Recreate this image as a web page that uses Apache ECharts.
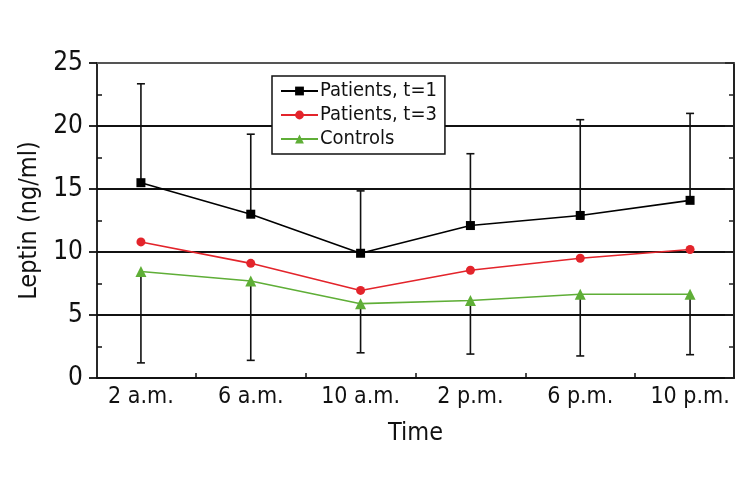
<!DOCTYPE html>
<html>
<head>
<meta charset="utf-8">
<script src="https://cdn.jsdelivr.net/npm/echarts@6/dist/echarts.min.js"></script>
<style>html,body{margin:0;padding:0;background:#fff}#c{width:750px;height:500px}</style>
</head>
<body>
<div id="c"></div>
<script>
const categories = ['2 a.m.', '6 a.m.', '10 a.m.', '2 p.m.', '6 p.m.', '10 p.m.'];
const yTicks = [0, 5, 10, 15, 20, 25];
const patientsT1 = [15.5, 13.0, 9.9, 12.1, 12.9, 14.1];
const patientsT3 = [10.8, 9.1, 6.95, 8.55, 9.5, 10.2];
const controls = [8.45, 7.7, 5.9, 6.15, 6.65, 6.65];
const upperErrEnd = [23.35, 19.35, 14.85, 17.8, 20.5, 21.0];
const lowerErrEnd = [1.2, 1.4, 2.0, 1.9, 1.75, 1.85];

const FONT = "'DejaVu Sans Condensed', 'Liberation Sans Narrow', 'Noto Sans', sans-serif";
const xIdx = categories.map((c, i) => i);

const errData = [];
xIdx.forEach(i => {
  errData.push([i, patientsT1[i], upperErrEnd[i]]);
  errData.push([i, controls[i], lowerErrEnd[i]]);
});

const chart = echarts.init(document.getElementById('c'), null, {renderer: 'canvas'});
chart.setOption({
  animation: false,
  backgroundColor: '#fff',
  textStyle: {fontFamily: FONT},
  grid: {left: 97, right: 16, top: 63, bottom: 122, containLabel: false},
  legend: {
    left: 272, top: 76,
    orient: 'vertical',
    backgroundColor: '#fff',
    borderColor: '#111', borderWidth: 1.5,
    padding: [5, 8, 5, 8],
    itemGap: 4,
    itemWidth: 37, itemHeight: 11,
    textStyle: {fontFamily: FONT, fontSize: 20, color: '#111', padding: [0, 0, 0, -3]},
    data: ['Patients, t=1', 'Patients, t=3', 'Controls']
  },
  xAxis: [{
    type: 'value', min: -0.4, max: 5.4,
    name: 'Time', nameLocation: 'middle', nameGap: 43,
    nameTextStyle: {fontFamily: FONT, fontSize: 25, color: '#111'},
    axisLine: {show: true, onZero: false, lineStyle: {color: '#111', width: 1.8}},
    axisTick: {show: true, inside: true, length: 5, customValues: [0.5, 1.5, 2.5, 3.5, 4.5], lineStyle: {color: '#111', width: 1.5}},
    axisLabel: {show: true, customValues: xIdx, margin: 8, fontFamily: FONT, fontSize: 23, color: '#111',
      formatter: v => categories[Math.round(v)] || ''},
    splitLine: {show: false}
  }, {
    type: 'value', min: -0.4, max: 5.4, position: 'top',
    axisLine: {show: true, onZero: false, lineStyle: {color: '#555', width: 2}},
    axisTick: {show: false}, axisLabel: {show: false}, splitLine: {show: false}
  }],
  yAxis: [{
    type: 'value', min: 0, max: 25, interval: 5, position: 'left',
    name: 'Leptin (ng/ml)', nameLocation: 'middle', nameGap: 40, nameRotate: 90,
    nameTextStyle: {fontFamily: FONT, fontSize: 25, color: '#111'},
    axisLine: {show: true, onZero: false, lineStyle: {color: '#111', width: 1.8}},
    axisTick: {show: true, inside: false, length: 8, lineStyle: {color: '#111', width: 1.8}},
    axisLabel: {show: true, margin: 14, fontFamily: FONT, fontSize: 26, color: '#111',
      formatter: v => String(yTicks[yTicks.indexOf(v)])},
    splitLine: {show: true, lineStyle: {color: '#111', width: 1.8}}
  }, {
    type: 'value', min: 0, max: 25, interval: 5, position: 'left',
    axisLine: {show: false, onZero: false},
    axisTick: {show: false, inside: true},
    minorTick: {show: true, splitNumber: 2, length: 5, lineStyle: {color: '#111', width: 1.5}},
    axisLabel: {show: false}, splitLine: {show: false}
  }, {
    type: 'value', min: 0, max: 25, interval: 5, position: 'right',
    axisLine: {show: true, onZero: false, lineStyle: {color: '#222', width: 2}},
    axisTick: {show: true, inside: true, length: 9, lineStyle: {color: '#222', width: 1.5}},
    minorTick: {show: true, splitNumber: 2, length: 5, lineStyle: {color: '#222', width: 1.5}},
    axisLabel: {show: false}, splitLine: {show: false}
  }],
  series: [{
    type: 'custom', name: 'err', xAxisIndex: 0, yAxisIndex: 0, z: 1,
    data: errData,
    renderItem: function (params, api) {
      const x = api.value(0);
      const a = api.coord([x, api.value(1)]);
      const b = api.coord([x, api.value(2)]);
      const hw = 4;
      const st = {stroke: '#111', lineWidth: 1.6};
      return {type: 'group', children: [
        {type: 'line', shape: {x1: a[0], y1: a[1], x2: b[0], y2: b[1]}, style: st},
        {type: 'line', shape: {x1: b[0] - hw, y1: b[1], x2: b[0] + hw, y2: b[1]}, style: st}
      ]};
    },
    silent: true
  }, {
    type: 'line', name: 'Patients, t=1', z: 5,
    data: xIdx.map(i => [i, patientsT1[i]]),
    symbol: 'rect', symbolSize: 9,
    itemStyle: {color: '#000'}, lineStyle: {color: '#000', width: 1.6}
  }, {
    type: 'line', name: 'Patients, t=3', z: 4,
    data: xIdx.map(i => [i, patientsT3[i]]),
    symbol: 'circle', symbolSize: 9,
    itemStyle: {color: '#e3242b'}, lineStyle: {color: '#e3242b', width: 1.6}
  }, {
    type: 'line', name: 'Controls', z: 3,
    data: xIdx.map(i => [i, controls[i]]),
    symbol: 'triangle', symbolSize: 11,
    itemStyle: {color: '#5fae37'}, lineStyle: {color: '#5fae37', width: 1.6}
  }]
});
</script>
</body>
</html>
